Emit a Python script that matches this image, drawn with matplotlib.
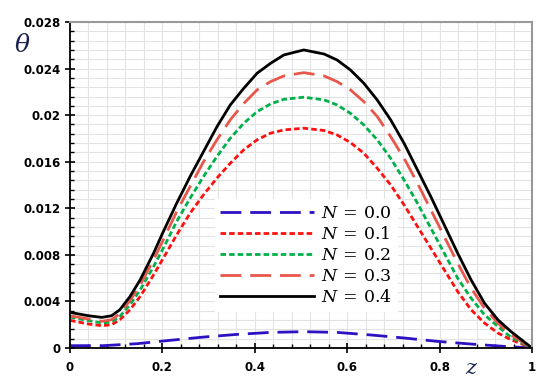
import matplotlib
matplotlib.use("Agg")
import matplotlib.pyplot as plt
from matplotlib.ticker import MultipleLocator

# ---- data ----
z_n0 = [0.0, 0.072, 0.145, 0.217, 0.289, 0.362, 0.434, 0.506, 0.578, 0.651, 0.723, 0.795, 0.868, 0.940, 1.0]
th_n0 = [0.0002, 0.0002, 0.00037, 0.00066, 0.00094, 0.00117, 0.00134, 0.0014, 0.00134, 0.00112,
         0.00086, 0.00057, 0.00034, 0.00014, 0.0]

z_common = [0.0, 0.040, 0.069, 0.090, 0.108, 0.130, 0.152, 0.181, 0.202, 0.231, 0.260, 0.289, 0.318,
            0.347, 0.376, 0.405, 0.434, 0.463, 0.506, 0.550, 0.578, 0.607, 0.636, 0.665, 0.694, 0.723,
            0.752, 0.781, 0.810, 0.839, 0.868, 0.897, 0.926, 0.954, 1.0]

th_n1 = [0.00237, 0.00206, 0.00192, 0.0020, 0.00243, 0.00329, 0.00443, 0.00629, 0.00772, 0.00972,
         0.01158, 0.01316, 0.01459, 0.01587, 0.01702, 0.01788, 0.01845, 0.01873, 0.01888, 0.01868,
         0.0183, 0.01765, 0.01673, 0.01544, 0.01401, 0.0123, 0.01044, 0.00858, 0.00672, 0.00486,
         0.00329, 0.00215, 0.00129, 0.00072, 0.0]

th_n2 = [0.00266, 0.00235, 0.00215, 0.00223, 0.00272, 0.00372, 0.0050, 0.0070, 0.00858, 0.01087,
         0.01287, 0.01473, 0.01645, 0.01802, 0.0193, 0.0203, 0.02096, 0.02136, 0.02154, 0.02131,
         0.02088, 0.02016, 0.01916, 0.01788, 0.0163, 0.01444, 0.01244, 0.0103, 0.00815, 0.0060,
         0.00429, 0.00286, 0.00186, 0.00094, 0.0]

th_n3 = [0.00277, 0.00249, 0.00229, 0.00243, 0.00295, 0.00409, 0.00543, 0.00758, 0.0093, 0.01173,
         0.01387, 0.0160, 0.01788, 0.0196, 0.0210, 0.02217, 0.02288, 0.02337, 0.02365, 0.02337,
         0.02288, 0.02217, 0.02116, 0.01988, 0.01816, 0.0163, 0.01416, 0.01187, 0.00958, 0.00729,
         0.00515, 0.00343, 0.00215, 0.00114, 0.0]

th_n4 = [0.00306, 0.00277, 0.00263, 0.00277, 0.00329, 0.00443, 0.00586, 0.00815, 0.0100, 0.01244,
         0.01473, 0.01687, 0.0190, 0.02088, 0.0223, 0.0236, 0.02445, 0.02517, 0.0256, 0.02525,
         0.02474, 0.02388, 0.02274, 0.0213, 0.0196, 0.01759, 0.0153, 0.0130, 0.01058, 0.00815,
         0.00586, 0.00386, 0.00243, 0.00143, 0.0]

labels = ["$N\\,=\\,0.0$", "$N\\,=\\,0.1$", "$N\\,=\\,0.2$", "$N\\,=\\,0.3$", "$N\\,=\\,0.4$"]
x_ticks = [0, 0.2, 0.4, 0.6, 0.8, 1.0]
x_tick_labels = ["0", "0.2", "0.4", "0.6", "0.8", "1"]
y_ticks = [0, 0.004, 0.008, 0.012, 0.016, 0.02, 0.024, 0.028]
y_tick_labels = ["0", "0.004", "0.008", "0.012", "0.016", "0.02", "0.024", "0.028"]

plt.rcParams['mathtext.fontset'] = 'dejavuserif'

fig = plt.figure(figsize=(5.5, 3.9), dpi=100)
ax = fig.add_axes([70/550, 1-348/390, 462/550, 326/390])

lw = 2.0
ax.plot(z_n0, th_n0, color='#2d12c4', lw=lw, dashes=(7.5, 3.2), label=labels[0])
ax.plot(z_common, th_n1, color='#ff1010', lw=lw, dashes=(2.0, 1.1), label=labels[1])
ax.plot(z_common, th_n2, color='#00b04a', lw=lw, dashes=(2.0, 1.1), label=labels[2])
ax.plot(z_common, th_n3, color='#e8564c', lw=lw, dashes=(7.5, 3.2), label=labels[3])
ax.plot(z_common, th_n4, color='black', lw=lw, label=labels[4])

ax.set_xlim(0, 1)
ax.set_ylim(0, 0.028)
ax.set_xticks(x_ticks)
ax.set_xticklabels(x_tick_labels)
ax.set_yticks(y_ticks)
ax.set_yticklabels(y_tick_labels)
ax.xaxis.set_minor_locator(MultipleLocator(0.04))
ax.yaxis.set_minor_locator(MultipleLocator(0.0008))

ax.grid(True, which='both', color='#e3e3e3', lw=0.8)
ax.set_axisbelow(True)

for s in ['top', 'right']:
    ax.spines[s].set_color('#999999')
    ax.spines[s].set_linewidth(1.5)
for s in ['left', 'bottom']:
    ax.spines[s].set_color('black')
    ax.spines[s].set_linewidth(1.3)

ax.tick_params(which='major', direction='inout', length=7, width=1.2, color='black')
ax.tick_params(which='minor', direction='in', length=3, width=1.0, color='black')
ax.tick_params(axis='x', which='major', pad=6)
ax.tick_params(axis='y', which='major', pad=3)
for lab in ax.get_xticklabels() + ax.get_yticklabels():
    lab.set_fontweight('bold')
    lab.set_fontsize(8.5)
    lab.set_family('DejaVu Sans')

leg = ax.legend(loc='upper left', bbox_to_anchor=(206/550, 1-190/390), bbox_transform=fig.transFigure,
                fontsize=12.5, handlelength=5.4, frameon=True, framealpha=1.0, edgecolor='white',
                fancybox=False, labelspacing=0.17, handletextpad=0.4, borderpad=0.3)

fig.text(22/550, 1-45/390, r'$\theta$', fontsize=18, color='#1c2352', ha='center', va='center')
fig.text(472/550, 1-368/390, r'$z$', fontsize=15, color='#1c2352', ha='center', va='center')

fig.savefig('out.png', dpi=100)
